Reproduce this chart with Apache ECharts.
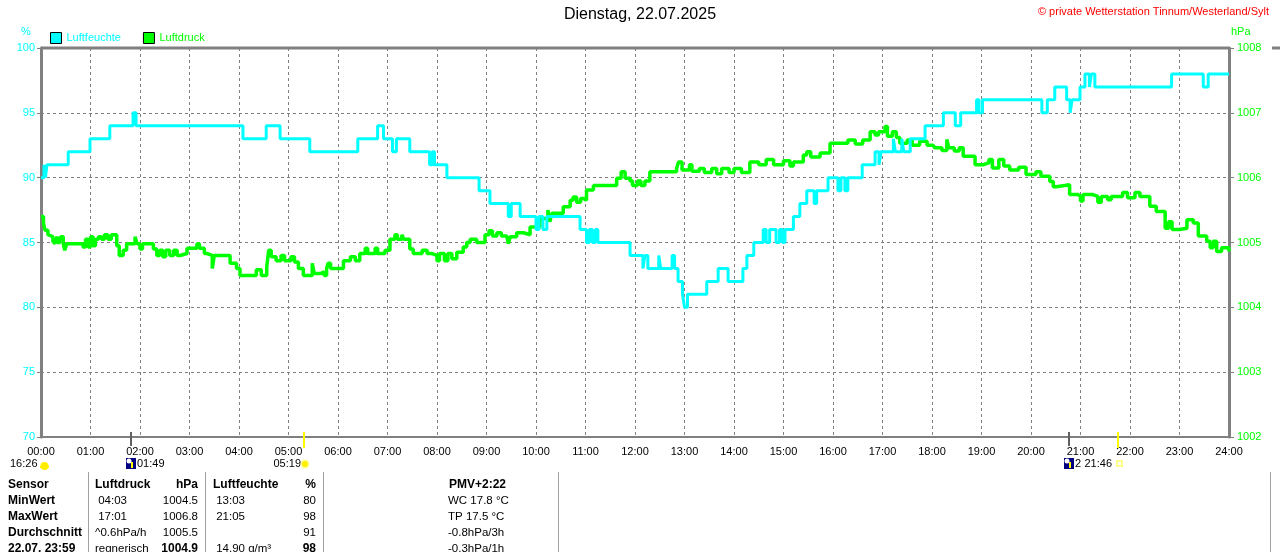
<!DOCTYPE html>
<html>
<head>
<meta charset="utf-8">
<title>Dienstag, 22.07.2025</title>
<script src="https://cdn.jsdelivr.net/npm/echarts@6/dist/echarts.min.js"></script>
<style>
    html, body {margin: 0; padding: 0; background: #fff;}
    #chart {width: 1280px; height: 552px;}
</style>
</head>
<body>
<div id="chart"></div>
<script>
// x axis: hours of the day
var hourLabels = ['00:00', '01:00', '02:00', '03:00', '04:00', '05:00', '06:00', '07:00', '08:00',
    '09:00', '10:00', '11:00', '12:00', '13:00', '14:00', '15:00', '16:00', '17:00', '18:00',
    '19:00', '20:00', '21:00', '22:00', '23:00', '24:00'];

// Luftfeuchte (%), step points: time in hours, value
var humTime = [0, 0.06, 0.09, 0.12, 0.55, 0.99, 1.39, 1.86, 1.92, 4.08, 4.55, 4.83, 5.43, 6.40, 6.80,
    6.92, 7.10, 7.18, 7.45, 7.85, 7.90, 7.95, 8.20, 8.85, 9.07, 9.44, 9.50, 9.68, 10.00, 10.06, 10.14,
    10.22, 10.89, 11.02, 11.08, 11.14, 11.20, 11.25, 11.90, 12.16, 12.20, 12.26, 12.48, 12.52, 12.75,
    12.80, 12.87, 12.96, 13.00, 13.06, 13.45, 13.68, 13.88, 14.18, 14.26, 14.40, 14.59, 14.65, 14.72,
    14.85, 14.92, 14.98, 15.03, 15.20, 15.33, 15.47, 15.62, 15.67, 15.90, 16.10, 16.16, 16.24, 16.30,
    16.59, 16.85, 16.93, 16.97, 17.22, 17.26, 17.39, 17.43, 17.56, 17.86, 18.23, 18.47, 18.58, 18.90,
    18.95, 19.02, 20.22, 20.33, 20.48, 20.72, 20.79, 20.83, 20.99, 21.09, 21.18, 21.22, 21.29, 22.84,
    23.48, 23.58, 24.00];
var humValue = [90, 91, 90, 91, 92, 93, 94, 95, 94, 93, 94, 93, 92, 93, 94,
    93, 92, 93, 92, 91, 92, 91, 90, 89, 88, 87, 88, 87, 86, 87, 86,
    87, 86, 85, 86, 85, 86, 85, 84, 83, 84, 83, 84, 83, 84,
    83, 82, 81, 80, 81, 82, 83, 82, 83, 84, 85, 86, 85, 86,
    85, 86, 85, 86, 87, 88, 89, 88, 89, 90, 89, 90, 89, 90,
    91, 92, 91, 92, 93, 92, 93, 92, 93, 94, 95, 94, 95, 96,
    95, 96, 95, 96, 97, 96, 95, 96, 97, 98, 97, 98, 97, 98,
    97, 98, 98];

// Luftdruck (hPa)
var presTime = [0, 0.05, 0.08, 0.14, 0.18, 0.24, 0.28, 0.32, 0.36, 0.40, 0.45, 0.48, 0.52, 0.85, 0.90,
    0.95, 1.00, 1.05, 1.10, 1.16, 1.22, 1.28, 1.35, 1.42, 1.53, 1.58, 1.66, 1.73, 1.90, 1.94, 2.00,
    2.05, 2.27, 2.34, 2.40, 2.46, 2.52, 2.60, 2.68, 2.75, 2.81, 2.95, 3.15, 3.20, 3.30, 3.35, 3.46,
    3.50, 3.82, 3.95, 4.02, 4.35, 4.45, 4.56, 4.60, 4.65, 4.75, 4.85, 4.92, 5.05, 5.12, 5.20, 5.30,
    5.48, 5.52, 5.65, 5.72, 5.77, 5.80, 5.85, 6.11, 6.25, 6.35, 6.44, 6.55, 6.60, 6.75, 6.80, 6.95,
    7.05, 7.15, 7.20, 7.29, 7.33, 7.45, 7.52, 7.70, 7.80, 7.90, 8.00, 8.05, 8.15, 8.22, 8.30, 8.40,
    8.53, 8.60, 8.67, 8.80, 8.97, 9.05, 9.12, 9.21, 9.30, 9.41, 9.44, 9.48, 9.61, 9.75, 9.88, 10.08,
    10.24, 10.28, 10.32, 10.55, 10.69, 10.75, 10.82, 10.90, 10.96, 11.02, 11.16, 11.63, 11.72, 11.80,
    11.90, 11.95, 12.05, 12.12, 12.20, 12.30, 12.84, 12.88, 12.95, 13.10, 13.15, 13.30, 13.40, 13.55,
    13.65, 13.75, 13.90, 14.00, 14.15, 14.32, 14.50, 14.65, 14.80, 15.00, 15.13, 15.20, 15.40, 15.47,
    15.55, 15.74, 15.94, 16.14, 16.30, 16.45, 16.60, 16.75, 16.85, 16.92, 17.05, 17.10, 17.20, 17.28,
    17.35, 17.50, 17.60, 17.75, 17.90, 18.02, 18.06, 18.20, 18.30, 18.34, 18.45, 18.55, 18.63, 18.87,
    19.04, 19.15, 19.22, 19.35, 19.45, 19.57, 19.75, 19.90, 20.10, 20.20, 20.38, 20.45, 20.51, 20.78,
    20.95, 21.00, 21.05, 21.25, 21.35, 21.42, 21.55, 21.62, 21.75, 21.85, 21.95, 22.10, 22.20, 22.40,
    22.53, 22.71, 22.78, 22.85, 23.00, 23.15, 23.28, 23.38, 23.55, 23.62, 23.68, 23.75, 23.85, 24.00];
var presValue = [1005.40, 1005.30, 1005.19, 1005.12, 1005.09, 1005.02, 1004.98, 1005.09, 1004.98, 1005.09, 1004.98, 1004.88, 1004.98, 1004.93, 1005.05,
    1004.93, 1005.09, 1004.95, 1005.05, 1005.09, 1005.05, 1005.12, 1005.05, 1005.12, 1004.95, 1004.80, 1004.88, 1004.98, 1005.09, 1004.98, 1004.90,
    1004.98, 1004.90, 1004.80, 1004.88, 1004.78, 1004.88, 1004.80, 1004.88, 1004.80, 1004.83, 1004.91, 1004.98, 1004.91, 1004.83, 1004.80, 1004.60,
    1004.80, 1004.68, 1004.60, 1004.49, 1004.58, 1004.49, 1004.62, 1004.88, 1004.78, 1004.72, 1004.80, 1004.72, 1004.78, 1004.70, 1004.60, 1004.49,
    1004.68, 1004.52, 1004.55, 1004.49, 1004.60, 1004.68, 1004.60, 1004.72, 1004.78, 1004.72, 1004.83, 1004.91, 1004.83, 1004.91, 1004.83, 1004.88,
    1005.05, 1005.12, 1005.05, 1005.12, 1005.05, 1004.90, 1004.83, 1004.88, 1004.83, 1004.80, 1004.72, 1004.83, 1004.72, 1004.83, 1004.75, 1004.85,
    1004.93, 1005.00, 1005.05, 1005.00, 1005.12, 1005.18, 1005.10, 1005.15, 1005.10, 1005.09, 1004.98, 1005.09, 1005.15, 1005.12, 1005.24, 1005.37,
    1005.50, 1005.32, 1005.45, 1005.55, 1005.65, 1005.70, 1005.62, 1005.68, 1005.65, 1005.81, 1005.88, 1005.99, 1006.09, 1005.99,
    1005.95, 1005.88, 1005.95, 1005.88, 1005.95, 1006.09, 1006.14, 1006.24, 1006.12, 1006.20, 1006.10, 1006.14, 1006.08, 1006.14,
    1006.06, 1006.14, 1006.08, 1006.14, 1006.08, 1006.24, 1006.20, 1006.28, 1006.20, 1006.26, 1006.18, 1006.24, 1006.35, 1006.40,
    1006.32, 1006.38, 1006.53, 1006.53, 1006.58, 1006.52, 1006.58, 1006.71, 1006.66, 1006.71, 1006.79, 1006.64, 1006.71, 1006.62,
    1006.53, 1006.58, 1006.50, 1006.56, 1006.50, 1006.53, 1006.46, 1006.42, 1006.59, 1006.46, 1006.41, 1006.46, 1006.33, 1006.20,
    1006.23, 1006.28, 1006.15, 1006.28, 1006.18, 1006.12, 1006.16, 1006.05, 1006.09, 1006.02, 1005.94, 1005.86, 1005.89, 1005.74,
    1005.71, 1005.64, 1005.74, 1005.71, 1005.62, 1005.71, 1005.66, 1005.71, 1005.71, 1005.77, 1005.69, 1005.77, 1005.71, 1005.56,
    1005.48, 1005.22, 1005.32, 1005.20, 1005.22, 1005.35, 1005.30, 1005.10, 1005.02, 1004.92, 1005.02, 1004.86, 1004.92, 1004.86];

// Mond / Sonne auf- und untergang
var eventTimes = [1.817, 5.317, 20.767, 21.767];
var eventKinds = ['moon', 'sun', 'moon', 'sun'];
var eventLabels = ['01:49', '05:19', '2', '21:46'];

// Tabelle
var tableRows = [
    ['Sensor', 'Luftdruck', 'hPa', 'Luftfeuchte', '%', 'PMV+2:22'],
    ['MinWert', ' 04:03', '1004.5', ' 13:03', '80', 'WC 17.8 °C'],
    ['MaxWert', ' 17:01', '1006.8', ' 21:05', '98', 'TP 17.5 °C'],
    ['Durchschnitt', '^0.6hPa/h', '1005.5', '', '91', '-0.8hPa/3h'],
    ['22.07. 23:59', 'regnerisch', '1004.9', ' 14.90 g/m³', '98', '-0.3hPa/1h']
];

var FONT = '"Liberation Sans", Arial, sans-serif';
var GRAY = '#808080';
var CYAN = '#00ffff';
var GREEN = '#00ff00';

var myChart = echarts.init(document.getElementById('chart'));

function pairs(xs, ys) {
    return xs.map(function (x, i) { return [x, ys[i]]; });
}

var option = {
    animation: false,
    backgroundColor: '#fff',
    textStyle: {fontFamily: FONT},
    grid: {left: 41, right: 51, top: 48, bottom: 115, containLabel: false},
    legend: {
        left: 45, top: 27, icon: 'rect', itemWidth: 11, itemHeight: 11, itemGap: 22,
        itemStyle: {borderColor: '#000', borderWidth: 1},
        textStyle: {fontSize: 11, fontFamily: FONT},
        data: [
            {name: 'Luftfeuchte', textStyle: {color: CYAN}},
            {name: 'Luftdruck', textStyle: {color: GREEN}}
        ]
    },
    xAxis: {
        type: 'value', min: 0, max: 24, interval: 1,
        axisLine: {lineStyle: {color: GRAY, width: 2}},
        axisTick: {show: false},
        axisLabel: {
            color: '#000', fontSize: 11, margin: 9, fontFamily: FONT,
            formatter: function (v) { return hourLabels[Math.round(v)]; }
        },
        splitLine: {show: true, lineStyle: {color: GRAY, type: [3, 3], width: 1}}
    },
    yAxis: [{
        type: 'value', min: 70, max: 100, interval: 5, position: 'left',
        axisLine: {show: true, lineStyle: {color: GRAY, width: 3}},
        axisTick: {show: true, length: 4, lineStyle: {color: GRAY}},
        axisLabel: {color: CYAN, fontSize: 11, margin: 6, fontFamily: FONT,
            formatter: function (v) { return String(v); }},
        splitLine: {show: true, lineStyle: {color: GRAY, type: [3, 3], width: 1}}
    }, {
        type: 'value', min: 1002, max: 1008, interval: 1, position: 'right',
        axisLine: {show: true, lineStyle: {color: GRAY, width: 3}},
        axisTick: {show: true, length: 5, lineStyle: {color: GRAY}},
        axisLabel: {color: GREEN, fontSize: 11, margin: 8, fontFamily: FONT,
            formatter: function (v) { return String(v); }},
        splitLine: {show: false}
    }],
    series: [{
        name: 'Luftdruck', type: 'line', yAxisIndex: 1, step: 'end',
        showSymbol: false, symbol: 'none',
        itemStyle: {color: GREEN},
        lineStyle: {color: GREEN, width: 3.5},
        data: pairs(presTime, presValue)
    }, {
        name: 'Luftfeuchte', type: 'line', yAxisIndex: 0, step: 'end',
        showSymbol: false, symbol: 'none',
        itemStyle: {color: CYAN},
        lineStyle: {color: CYAN, width: 3},
        data: pairs(humTime, humValue)
    }]
};
myChart.setOption(option);

// Beschriftung, Rahmen, Sonne/Mond, Tabelle
function buildGraphic() {
    var g = [];
    var x0 = myChart.convertToPixel({xAxisIndex: 0}, 0);
    var x24 = myChart.convertToPixel({xAxisIndex: 0}, 24);
    var yTop = myChart.convertToPixel({yAxisIndex: 0}, 100);
    var yBot = myChart.convertToPixel({yAxisIndex: 0}, 70);

    g.push({type: 'text', left: 'center', top: 7,
        style: {text: 'Dienstag, 22.07.2025', fill: '#000', font: '16px ' + FONT}});
    g.push({type: 'text', right: 11, top: 6,
        style: {text: '© private Wetterstation Tinnum/Westerland/Sylt', fill: '#ff0000', font: '11px ' + FONT}});
    g.push({type: 'text', x: x0 - 15, y: 26, style: {text: '%', fill: CYAN, font: '11px ' + FONT, textAlign: 'center'}});
    g.push({type: 'text', x: x24 + 2, y: 26, style: {text: 'hPa', fill: GREEN, font: '11px ' + FONT}});

    // oberer Rahmen
    g.push({type: 'line', shape: {x1: x0, y1: yTop, x2: x24, y2: yTop},
        style: {stroke: GRAY, lineWidth: 3}, z: 10});
    g.push({type: 'line', shape: {x1: 1272, y1: yTop, x2: 1280, y2: yTop},
        style: {stroke: GRAY, lineWidth: 3}});

    // Sonne / Mond
    g.push({type: 'text', x: 10, y: 458, style: {text: '16:26', fill: '#000', font: '11px ' + FONT}});
    g.push({type: 'circle', shape: {cx: 44.5, cy: 466, r: 4}, style: {fill: '#ffee00'}});
    g.push({type: 'rect', shape: {x: 40, y: 466, width: 9, height: 2}, style: {fill: '#ffee00'}});
    eventTimes.forEach(function (t, i) {
        var px = Math.round(myChart.convertToPixel({xAxisIndex: 0}, t));
        var isSun = eventKinds[i] === 'sun';
        g.push({type: 'line', shape: {x1: px, y1: yBot - 5, x2: px, y2: yBot + (isSun ? 11 : 9)},
            style: {stroke: isSun ? '#ffff00' : '#606060', lineWidth: 2}, z: 20});
        if (!isSun) {
            g.push({type: 'rect', shape: {x: px - 5, y: 458, width: 10, height: 11}, style: {fill: '#000080'}});
            g.push({type: 'circle', shape: {cx: px - 2, cy: 461, r: 2.5}, style: {fill: '#ffffff'}});
            g.push({type: 'rect', shape: {x: px, y: 462, width: 2, height: 6}, style: {fill: '#ffff00'}});
            g.push({type: 'text', x: px + 6, y: 458,
                style: {text: eventLabels[i], fill: '#000', font: '11px ' + FONT}});
        } else if (i === 1) {
            g.push({type: 'text', x: px - 3, y: 458, style: {text: eventLabels[i], fill: '#000', font: '11px ' + FONT, textAlign: 'right'}});
            g.push({type: 'circle', shape: {cx: px + 1, cy: 464, r: 4.5}, style: {fill: '#ffff99'}});
            g.push({type: 'circle', shape: {cx: px + 1, cy: 464, r: 3}, style: {fill: '#ffee00'}});
        } else {
            g.push({type: 'text', x: px - 6, y: 458, style: {text: eventLabels[i], fill: '#000', font: '11px ' + FONT, textAlign: 'right'}});
            g.push({type: 'rect', shape: {x: px - 1, y: 461, width: 5, height: 5}, style: {fill: 'none', stroke: '#ffff66', lineWidth: 1.5}});
        }
    });

    // Tabelle
    [88, 205, 323, 558, 1270].forEach(function (x) {
        g.push({type: 'line', shape: {x1: x + 0.5, y1: 472, x2: x + 0.5, y2: 552},
            style: {stroke: '#a0a0a0', lineWidth: 1}});
    });
    var colX = [8, 95, 198, 213, 316, 448];
    var colAlign = ['left', 'left', 'right', 'left', 'right', 'left'];
    tableRows.forEach(function (row, r) {
        row.forEach(function (cell, c) {
            var bold = r === 0 || c === 0 || (r === 4 && (c === 2 || c === 4));
            var x = colX[c];
            if (r === 0 && c === 5) { x = 449; }
            g.push({type: 'text', x: x, y: 485 + r * 16,
                style: {
                    text: cell, fill: '#000', textAlign: colAlign[c], textVerticalAlign: 'middle',
                    font: (bold ? 'bold 12px ' : '11.5px ') + FONT
                }});
        });
    });
    myChart.setOption({graphic: g});
}
buildGraphic();
</script>
</body>
</html>
